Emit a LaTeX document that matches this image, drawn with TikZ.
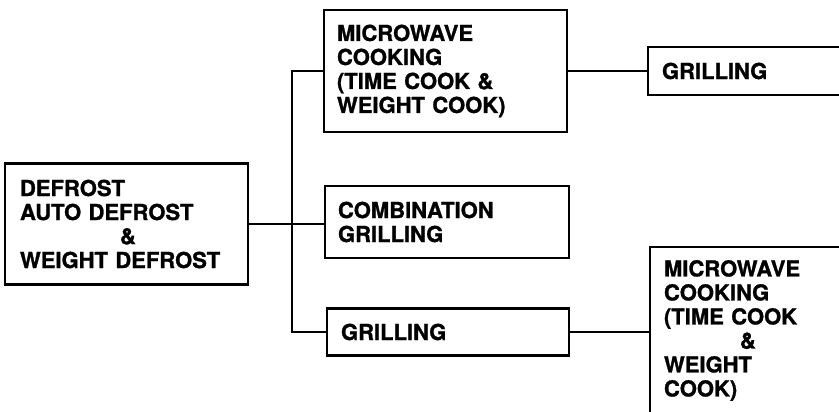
\documentclass[tikz,border=0pt]{standalone}
\usepackage{fontspec}
\setmainfont{TeX Gyre Heros}[BoldFeatures={FakeBold=1.2}]
\begin{document}
\begin{tikzpicture}[x=1pt,y=-1pt,
  box/.style={draw, line width=2.4pt, inner sep=0pt, align=left,
    font=\bfseries\fontsize{22}{24}\selectfont},
  conn/.style={line width=2.4pt}]
\useasboundingbox (0,0) rectangle (839,412);
\begin{scope}
\clip (0,0) rectangle (839,412);
\node[box, minimum width=243pt, minimum height=121pt, text width=213pt] (left) at (126.5,224)
  {DEFROST\\AUTO DEFROST\\\hspace*{100pt}\&\\WEIGHT DEFROST};
\node[box, minimum width=243pt, minimum height=122pt, text width=217pt] (mw1) at (445.5,71)
  {MICROWAVE\\COOKING\\(TIME COOK \&\\WEIGHT COOK)};
\node[box, minimum width=244pt, minimum height=72pt, text width=218pt] (comb) at (447,222)
  {COMBINATION\\GRILLING};
\node[box, minimum width=242pt, minimum height=47pt, text width=214pt] (grill) at (448,332)
  {GRILLING};
\node[box, minimum width=272pt, minimum height=48pt, text width=244pt] (grillR) at (784,71)
  {GRILLING};
\node[box, minimum width=270pt, minimum height=167pt, text width=242pt] (mwR) at (785,330.5)
  {MICROWAVE\\COOKING\\(TIME COOK\\\hspace*{76pt}\&\\WEIGHT\\COOK)};
\coordinate (jt) at (292,0);
\draw[conn] (mw1.west) -- (mw1.west -| jt) -- (grill.west -| jt) -- (grill.west);
\draw[conn] (left.east) -- (left.east -| comb.west);
\draw[conn] (mw1.east) -- (grillR.west);
\draw[conn] (grill.east) -- (grill.east -| mwR.west);
\end{scope}
\end{tikzpicture}
\end{document}
